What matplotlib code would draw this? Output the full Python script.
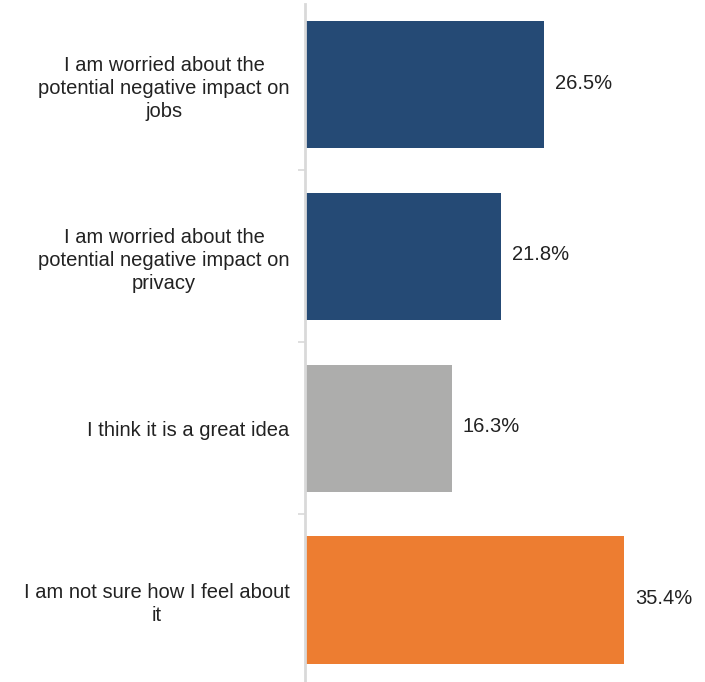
import matplotlib
matplotlib.use("Agg")
import matplotlib.pyplot as plt
from matplotlib.ticker import FixedLocator

plt.rcParams['font.family'] = ['Liberation Sans', 'DejaVu Sans']

categories = [
    "I am worried about the\npotential negative impact on\njobs",
    "I am worried about the\npotential negative impact on\nprivacy",
    "I think it is a great idea",
    "I am not sure how I feel about\nit",
]
values = [26.5, 21.8, 16.3, 35.4]
value_labels = ["26.5%", "21.8%", "16.3%", "35.4%"]
colors = ["#254a75", "#254a75", "#adadac", "#ed7d31"]

W, H = 705, 682
fig = plt.figure(figsize=(W / 100, H / 100), dpi=100)
fig.patch.set_facecolor("white")

# axes: left edge at the category axis line, spans nearly the full height
ax_left, ax_top, ax_bottom = 305, 4, 682
ax_width = 360
ax = fig.add_axes([ax_left / W, 1 - ax_bottom / H, ax_width / W, (ax_bottom - ax_top) / H])

band = 171.8
y_top = -(84.5 - ax_top) / band
y_bot = 3 + (ax_bottom - 600) / band

pos = list(range(len(categories)))
ax.barh(pos, values, height=0.74, color=colors, edgecolor="none")
ax.set_ylim(y_bot, y_top)
ax.set_xlim(0, ax_width / 9.0)

fs = 14.5
for p, v, lab in zip(pos, values, value_labels):
    ax.annotate(lab, xy=(v, p), xytext=(8, 1), textcoords="offset points",
                ha="left", va="center", fontsize=fs, color="#222222")

for s in ["top", "right", "bottom"]:
    ax.spines[s].set_visible(False)
ax.spines["left"].set_color("#d9d9d9")
ax.spines["left"].set_linewidth(2)

ax.set_xticks([])
ax.set_yticks(pos)
ax.set_yticklabels(categories, fontsize=fs, color="#222222",
                   ha="right", multialignment="center", linespacing=1.27)
ax.tick_params(axis="y", which="major", length=0, pad=11)
ax.yaxis.set_minor_locator(FixedLocator([0.5, 1.5, 2.5]))
ax.tick_params(axis="y", which="minor", length=5, width=1.2, color="#d9d9d9")

fig.savefig("out.png", dpi=100, facecolor="white")
